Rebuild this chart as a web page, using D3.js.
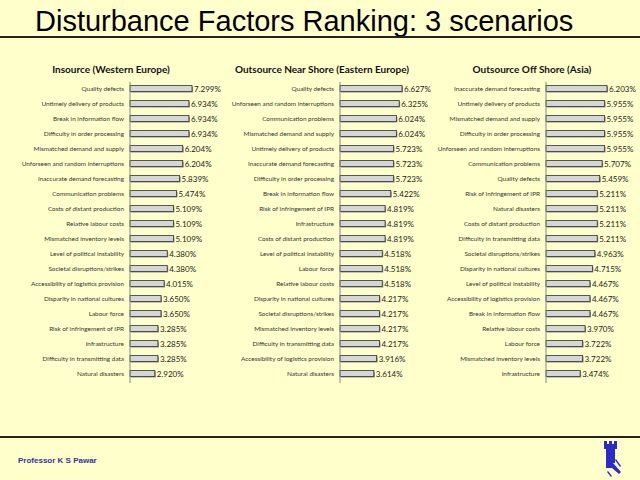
<html lang="en">
<head>
    <meta charset="UTF-8">
    <title>Disturbance Factors Ranking</title>
    <script src="https://d3js.org/d3.v7.min.js"></script>
    <style>
        body { margin: 0; background-color: #ffffcc; }
        svg { display: block; background-color: #ffffcc; }
    </style>
</head>
<body>
    <script>
        const insourceFactors = ['Quality defects', 'Untimely delivery of products', 'Break in information flow',
            'Difficulty in order processing', 'Mismatched demand and supply', 'Unforseen and random interruptions',
            'Inaccurate demand forecasting', 'Communication problems', 'Costs of distant production',
            'Relative labour costs', 'Mismatched inventory levels', 'Level of political instability',
            'Societal disruptions/strikes', 'Accessibility of logistics provision', 'Disparity in national cultures',
            'Labour force', 'Risk of infringement of IPR', 'Infrastructure', 'Difficulty in transmitting data',
            'Natural disasters'];
        const insourceValues = [7.299, 6.934, 6.934, 6.934, 6.204, 6.204, 5.839, 5.474, 5.109, 5.109,
            5.109, 4.380, 4.380, 4.015, 3.650, 3.650, 3.285, 3.285, 3.285, 2.920];

        const nearShoreFactors = ['Quality defects', 'Unforseen and random interruptions', 'Communication problems',
            'Mismatched demand and supply', 'Untimely delivery of products', 'Inaccurate demand forecasting',
            'Difficulty in order processing', 'Break in information flow', 'Risk of infringement of IPR',
            'Infrastructure', 'Costs of distant production', 'Level of political instability', 'Labour force',
            'Relative labour costs', 'Disparity in national cultures', 'Societal disruptions/strikes',
            'Mismatched inventory levels', 'Difficulty in transmitting data', 'Accessibility of logistics provision',
            'Natural disasters'];
        const nearShoreValues = [6.627, 6.325, 6.024, 6.024, 5.723, 5.723, 5.723, 5.422, 4.819, 4.819,
            4.819, 4.518, 4.518, 4.518, 4.217, 4.217, 4.217, 4.217, 3.916, 3.614];

        const offShoreFactors = ['Inaccurate demand forecasting', 'Untimely delivery of products',
            'Mismatched demand and supply', 'Difficulty in order processing', 'Unforseen and random interruptions',
            'Communication problems', 'Quality defects', 'Risk of infringement of IPR', 'Natural disasters',
            'Costs of distant production', 'Difficulty in transmitting data', 'Societal disruptions/strikes',
            'Disparity in national cultures', 'Level of political instability', 'Accessibility of logistics provision',
            'Break in information flow', 'Relative labour costs', 'Labour force', 'Mismatched inventory levels',
            'Infrastructure'];
        const offShoreValues = [6.203, 5.955, 5.955, 5.955, 5.955, 5.707, 5.459, 5.211, 5.211, 5.211,
            5.211, 4.963, 4.715, 4.467, 4.467, 4.467, 3.970, 3.722, 3.722, 3.474];

        const scenarioTitles = ['Insource (Western Europe)', 'Outsource Near Shore (Eastern Europe)',
            'Outsource Off Shore (Asia)'];

        const w = 640;
        const h = 480;
        const fmt = d3.format('.3f');

        const svg = d3.select('body')
            .append('svg')
            .attr('width', w)
            .attr('height', h);

        // slide title + rules
        svg.append('text')
            .attr('x', 35)
            .attr('y', 31)
            .style('font-family', 'Liberation Sans, Arial, sans-serif')
            .style('font-size', '29px')
            .style('fill', '#000')
            .text('Disturbance Factors Ranking: 3 scenarios');

        svg.append('line')
            .attr('x1', 0).attr('x2', w)
            .attr('y1', 37).attr('y2', 37)
            .style('stroke', '#222')
            .style('stroke-width', 2);

        svg.append('line')
            .attr('x1', 0).attr('x2', w)
            .attr('y1', 437).attr('y2', 437)
            .style('stroke', '#222')
            .style('stroke-width', 2);

        svg.append('text')
            .attr('x', 18)
            .attr('y', 463)
            .style('font-family', 'Liberation Sans, Arial, sans-serif')
            .style('font-size', '8px')
            .style('font-weight', 'bold')
            .style('fill', '#33339a')
            .text('Professor K S Pawar');

        // little castle logo
        const logo = svg.append('g')
            .attr('transform', 'translate(604,441)')
            .style('fill', '#2b2bc8');
        logo.append('path')
            .attr('d', 'M0,0 h3 v3 h2 v-3 h3 v3 h2 v-3 h3 v8 h-2 v14 h-9 v-14 h-2 z');
        logo.append('path')
            .attr('d', 'M2,22 h7 l8,9 l-2,2 l-7,-6 h-6 z');
        logo.append('path')
            .attr('d', 'M9,10 h1.5 v12 h-1.5 z M12,18 l5,7 l-1,1 l-5,-7 z M4,30 l4,5 l-1,1 l-4,-5 z');

        const rows = d3.range(20);
        const yScale = d3.scaleBand()
            .domain(rows)
            .range([81, 381])
            .paddingInner(0.6)
            .paddingOuter(0.3);

        function drawPanel(title, factors, values, axisX, barMax, titleX) {
            const g = svg.append('g');
            const xScale = d3.scaleLinear()
                .domain([0, d3.max(values)])
                .range([axisX, axisX + barMax]);

            g.append('text')
                .attr('x', titleX)
                .attr('y', 73)
                .attr('text-anchor', 'middle')
                .style('font-family', 'Lato, sans-serif')
                .style('font-size', '10px')
                .style('font-weight', 'bold')
                .style('fill', '#111')
                .text(title);

            // bar shadow
            g.selectAll('.shadow')
                .data(values)
                .enter()
                .append('rect')
                .attr('class', 'shadow')
                .attr('x', xScale(0) + 1)
                .attr('y', (d, i) => yScale(i) + 1)
                .attr('width', d => xScale(d) - xScale(0))
                .attr('height', yScale.bandwidth())
                .style('fill', '#8a8a8a');

            g.selectAll('.bar')
                .data(values)
                .enter()
                .append('rect')
                .attr('class', 'bar')
                .attr('x', xScale(0))
                .attr('y', (d, i) => yScale(i))
                .attr('width', d => xScale(d) - xScale(0))
                .attr('height', yScale.bandwidth())
                .style('fill', '#d6d6d6')
                .style('stroke', '#333')
                .style('stroke-width', 0.8);

            g.selectAll('.val')
                .data(values)
                .enter()
                .append('text')
                .attr('class', 'val')
                .attr('x', d => xScale(d) + 2)
                .attr('y', (d, i) => yScale(i) + yScale.bandwidth() / 2 + 3)
                .style('font-family', 'Lato, sans-serif')
                .style('font-size', '8px')
                .style('fill', '#222')
                .text(d => fmt(d) + '%');

            const yAxis = d3.axisLeft(d3.scaleBand().domain(factors).range([81, 381]))
                .tickSize(0)
                .tickPadding(6);
            const ax = g.append('g')
                .attr('transform', 'translate(' + axisX + ',0)')
                .call(yAxis);
            ax.select('.domain')
                .style('stroke', '#888')
                .attr('d', 'M0,82V383');
            ax.selectAll('text')
                .style('font-family', 'Lato, sans-serif')
                .style('font-size', '6.4px')
                .style('fill', '#333');
        }

        drawPanel(scenarioTitles[0], insourceFactors, insourceValues, 130, 62, 111);
        drawPanel(scenarioTitles[1], nearShoreFactors, nearShoreValues, 340, 62, 322);
        drawPanel(scenarioTitles[2], offShoreFactors, offShoreValues, 546, 61, 532);
    </script>
</body>
</html>
